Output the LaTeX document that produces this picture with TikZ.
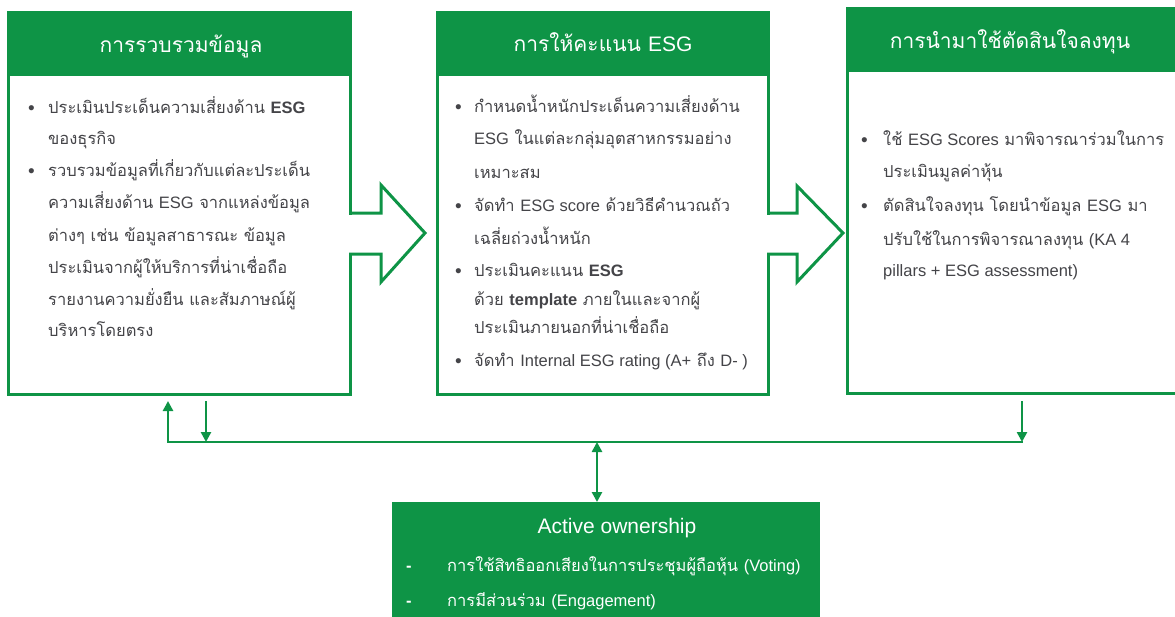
\documentclass[tikz,border=0pt]{standalone}
\usepackage{fontspec}
\setmainfont{Liberation Sans}
\newfontfamily\thai[Script=Thai]{Loma}
\newfontfamily\lat{Liberation Sans}
\usetikzlibrary{calc,arrows.meta}
\definecolor{esg}{RGB}{14,148,70}
\definecolor{txt}{RGB}{68,68,72}
\tikzset{
  box/.style={draw=esg, line width=3pt, fill=white, rectangle, inner sep=0, outer sep=0},
  head/.style={fill=esg, rectangle, inner sep=0, outer sep=0},
  headtext/.style={text=white, font=\thai\fontsize{21}{26}\selectfont, inner sep=0},
  body/.style={anchor=base west, text=txt, font=\thai\fontsize{16.5}{20}\selectfont, inner sep=0},
  bul/.style={anchor=base west, text=txt, font=\lat\fontsize{19}{20}\selectfont, inner sep=0},
  wbody/.style={anchor=base west, text=white, font=\thai\fontsize{16.5}{20}\selectfont, inner sep=0},
  conn/.style={draw=esg, line width=2.8pt},
  tip/.style={-{Triangle[length=10pt,width=10pt]}},
}
\begin{document}
\begin{tikzpicture}[x=1pt,y=-1pt]
\useasboundingbox (0,0) rectangle (1175,616);
% ---- boxes ----
\node[box, minimum width=342pt, minimum height=382pt] (b1) at (179,203) {};
\node[box, minimum width=331pt, minimum height=382pt] (b2) at (602.5,203) {};
\node[box, minimum width=340pt, minimum height=385pt] (b3) at (1017,200.5) {};
\node[head, minimum width=345pt, minimum height=64pt] (h1) at (179,43.5) {};
\node[head, minimum width=334pt, minimum height=64pt] (h2) at (602.5,43.5) {};
\node[head, minimum width=343pt, minimum height=65pt] (h3) at (1017,39.5) {};
\node[headtext] (h1t) at (181,46.5) {การรวบรวมข้อมูล};
\node[headtext] (h2t) at (603,42.5) {การให้คะแนน {\lat ESG}};
\node[headtext] (h3t) at (1010,42) {การนำมาใช้ตัดสินใจลงทุน};
% ---- block arrows ----
\fill[white] (346,214.5) rectangle (354,252.5);
\draw[esg, line width=3pt, line join=miter] (349,213) -- (381,213) -- (381,185) -- (425,233) -- (381,282) -- (381,254) -- (349,254);
\fill[white] (764,214.5) rectangle (772,252.5);
\draw[esg, line width=3pt, line join=miter] (767,213) -- (797,213) -- (797,186) -- (843,233) -- (797,282) -- (797,254) -- (767,254);
% ---- box 1 text ----
\node[bul] (b1d1) at (28,114) {•};
\node[body] (b1l1) at (48,113) {ประเมินประเด็นความเสี่ยงด้าน {\lat\bfseries ESG}};
\node[body] (b1l2) at (48,144) {ของธุรกิจ};
\node[bul] (b1d2) at (28,177) {•};
\node[body] (b1l3) at (48,176) {รวบรวมข้อมูลที่เกี่ยวกับแต่ละประเด็น};
\node[body] (b1l4) at (48,208) {ความเสี่ยงด้าน {\lat ESG} จากแหล่งข้อมูล};
\node[body] (b1l5) at (48,241) {ต่างๆ เช่น ข้อมูลสาธารณะ ข้อมูล};
\node[body] (b1l6) at (48,273) {ประเมินจากผู้ให้บริการที่น่าเชื่อถือ};
\node[body] (b1l7) at (48,305) {รายงานความยั่งยืน และสัมภาษณ์ผู้};
\node[body] (b1l8) at (48,336) {บริหารโดยตรง};
% ---- box 2 text ----
\node[bul] (b2d1) at (455,113) {•};
\node[body] (b2l1) at (474,112) {กำหนดน้ำหนักประเด็นความเสี่ยงด้าน};
\node[body] (b2l2) at (474,144) {{\lat ESG} ในแต่ละกลุ่มอุตสาหกรรมอย่าง};
\node[body] (b2l3) at (474,178) {เหมาะสม};
\node[bul] (b2d2) at (455,212) {•};
\node[body] (b2l4) at (474,211) {จัดทำ {\lat ESG score} ด้วยวิธีคำนวณถัว};
\node[body] (b2l5) at (474,244) {เฉลี่ยถ่วงน้ำหนัก};
\node[bul] (b2d3) at (455,277) {•};
\node[body] (b2l6) at (474,276) {ประเมินคะแนน {\lat\bfseries ESG}};
\node[body] (b2l7) at (474,305) {ด้วย {\lat\bfseries template} ภายในและจากผู้};
\node[body] (b2l8) at (474,333) {ประเมินภายนอกที่น่าเชื่อถือ};
\node[bul] (b2d4) at (455,367) {•};
\node[body] (b2l9) at (474,366) {จัดทำ {\lat Internal ESG rating (A+} ถึง {\lat D- )}};
% ---- box 3 text ----
\node[bul] (b3d1) at (861,146) {•};
\node[body] (b3l1) at (883,145) {ใช้ {\lat ESG Scores} มาพิจารณาร่วมในการ};
\node[body] (b3l2) at (883,177) {ประเมินมูลค่าหุ้น};
\node[bul] (b3d2) at (861,212) {•};
\node[body] (b3l3) at (883,211) {ตัดสินใจลงทุน โดยนำข้อมูล {\lat ESG} มา};
\node[body] (b3l4) at (883,245) {ปรับใช้ในการพิจารณาลงทุน {\lat (KA 4}};
\node[body] (b3l5) at (883,276) {{\lat pillars + ESG assessment)}};
% ---- active ownership box ----
\node[head, minimum width=428pt, minimum height=130pt] (ab) at (606,567) {};
\node[text=white, font=\lat\fontsize{21}{24}\selectfont, inner sep=0] (abt) at (617,528) {Active ownership};
\node[wbody] (ad1) at (406,571) {{\lat\bfseries -}};
\node[wbody] (al1) at (447,571) {การใช้สิทธิออกเสียงในการประชุมผู้ถือหุ้น {\lat (Voting)}};
\node[wbody] (ad2) at (406,606) {{\lat\bfseries -}};
\node[wbody] (al2) at (447,606) {การมีส่วนร่วม {\lat (Engagement)}};
% ---- connectors ----
\coordinate (jl) at (168,442);
\coordinate (jr) at (1022,442);
\coordinate (ju) at (168,401);
\coordinate (jd) at (206,401);
\coordinate (jdd) at (206,442);
\coordinate (jrd) at (1022,401);
\coordinate (jm) at (597,442);
\draw[conn, line cap=rect] (jl) -- (jr);
\draw[conn, tip] (jl) -- (ju);
\draw[conn, tip] (jd) -- (jdd);
\draw[conn, tip] (jrd) -- (jr);
\draw[conn, {Triangle[length=10pt,width=10pt]}-{Triangle[length=10pt,width=10pt]}] (jm) -- (jm |- ab.north);
\end{tikzpicture}
\end{document}
